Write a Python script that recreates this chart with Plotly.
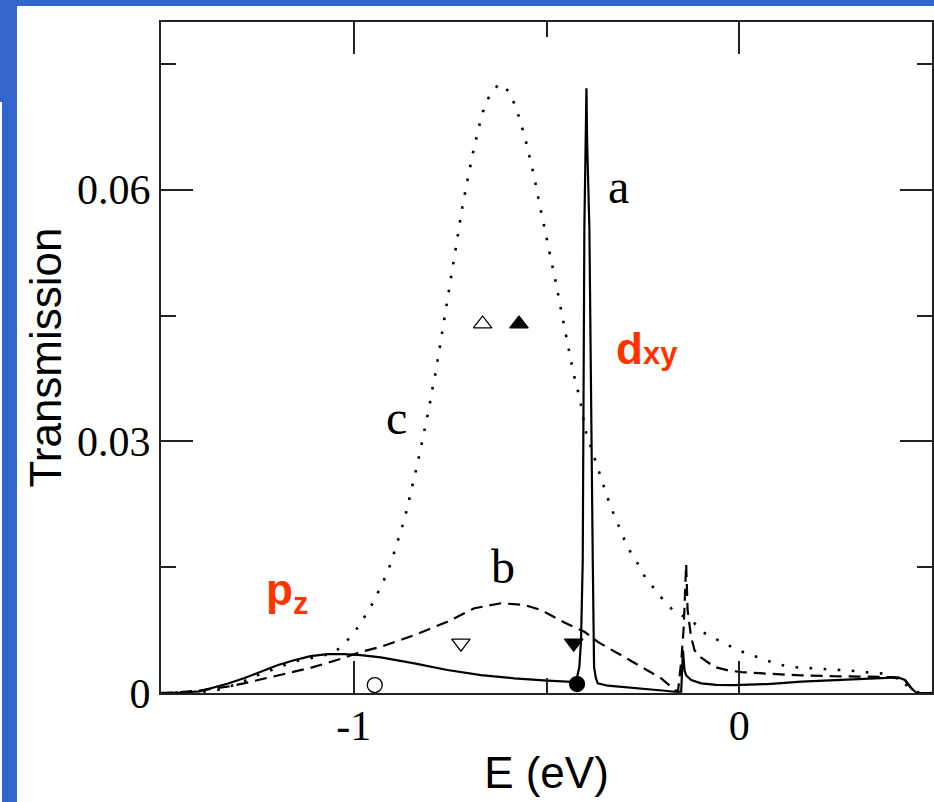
import plotly.graph_objects as go

# ---------------- data ----------------
# curve a (solid)
x_a = [-1.5, -1.45, -1.4, -1.371, -1.328, -1.285, -1.242, -1.198, -1.155, -1.112,
       -1.068, -1.025, -0.982, -0.93, -0.843, -0.757, -0.670, -0.584, -0.497, -0.428,
       -0.4234, -0.4148, -0.4104, -0.406, -0.4018, -0.3985, -0.3964, -0.3945, -0.3888,
       -0.380, -0.378, -0.3766, -0.372, -0.367, -0.341, -0.2545, -0.2, -0.168, -0.1506,
       -0.146, -0.142, -0.1377, -0.1247, -0.0987, -0.06, -0.013, 0.074, 0.161, 0.248,
       0.334, 0.412, 0.43, 0.447, 0.46, 0.5]
y_a = [0.0, 0.00005, 0.0002, 0.00056, 0.0011, 0.00175, 0.0025, 0.0033, 0.0039, 0.0044,
       0.00464, 0.00464, 0.00452, 0.00425, 0.00353, 0.00274, 0.00214, 0.00175, 0.00147, 0.00123,
       0.0013, 0.0031, 0.0063, 0.0158, 0.0555, 0.0655, 0.0721, 0.0655, 0.0555,
       0.0158, 0.0063, 0.0031, 0.0018, 0.00115, 0.00087, 0.00056, 0.0003, 0.00015, 0.00015,
       0.0051, 0.0027, 0.0021, 0.00155, 0.00115, 0.00098, 0.00095, 0.00107, 0.00135, 0.00155,
       0.00175, 0.00186, 0.00155, 0.00056, 0.0, 0.0]

# curve b (dashed)
x_b = [-1.5, -1.45, -1.4, -1.328, -1.285, -1.242, -1.198, -1.155, -1.112, -1.068,
       -1.025, -0.982, -0.93, -0.843, -0.757, -0.6875, -0.618, -0.5576, -0.514, -0.4536,
       -0.4016, -0.367, -0.315, -0.2545, -0.2026, -0.168, -0.159, -0.150, -0.144, -0.1377,
       -0.134, -0.125, -0.116, -0.0987, -0.064, -0.0294, 0.0052, 0.074, 0.161, 0.248,
       0.334, 0.395, 0.43, 0.447, 0.46, 0.5]
y_b = [0.0, 0.0001, 0.0003, 0.00075, 0.00115, 0.0016, 0.0021, 0.0025, 0.0030, 0.0036,
       0.0042, 0.0049, 0.0055, 0.0069, 0.0085, 0.0101, 0.0107, 0.0105, 0.0099, 0.0084,
       0.0073, 0.0061, 0.0047, 0.0031, 0.00175, 0.0004, 0.00015, 0.004, 0.0079, 0.0154,
       0.0099, 0.0067, 0.0051, 0.0042, 0.0031, 0.0027, 0.0025, 0.0023, 0.0021, 0.0020,
       0.0019, 0.0019, 0.0015, 0.0005, 0.0, 0.0]

# curve c (dotted)
x_c = [-1.5, -1.45, -1.4, -1.35, -1.3, -1.25, -1.2, -1.15, -1.1, -1.055,
       -1.033, -1.008, -0.985, -0.967, -0.947, -0.932, -0.916, -0.903, -0.891, -0.880,
       -0.869, -0.860, -0.851, -0.842, -0.835, -0.827, -0.819, -0.811, -0.804, -0.798,
       -0.790, -0.778, -0.766, -0.754, -0.742, -0.730, -0.718, -0.704, -0.689, -0.672,
       -0.6616, -0.646, -0.6225, -0.5966, -0.582, -0.570, -0.559, -0.550, -0.542, -0.533,
       -0.519, -0.503, -0.488, -0.473, -0.459, -0.445, -0.430, -0.420, -0.412, -0.399,
       -0.376, -0.365, -0.354, -0.341, -0.327, -0.313, -0.298, -0.281, -0.263, -0.244,
       -0.2216, -0.199, -0.174, -0.146, -0.118, -0.093, -0.064, -0.0294, 0.0034, 0.037,
       0.070, 0.1025, 0.135, 0.170, 0.204, 0.239, 0.274, 0.308, 0.343, 0.378,
       0.412, 0.435, 0.455, 0.47, 0.5]
y_c = [0.0, 0.00003, 0.0001, 0.0004, 0.0011, 0.0021, 0.0030, 0.0038, 0.0043, 0.0047,
       0.0055, 0.0067, 0.0081, 0.0095, 0.0110, 0.0125, 0.0140, 0.0156, 0.0173, 0.0189,
       0.0206, 0.0223, 0.0240, 0.0256, 0.0273, 0.0290, 0.0307, 0.0324, 0.0341, 0.0358,
       0.0376, 0.0409, 0.0443, 0.0478, 0.0511, 0.0546, 0.0580, 0.0614, 0.0648, 0.0681,
       0.0698, 0.0714, 0.07265, 0.0717, 0.0701, 0.0685, 0.0668, 0.0652, 0.0635, 0.0618,
       0.0585, 0.0551, 0.0517, 0.0483, 0.0449, 0.0415, 0.0381, 0.0363, 0.0347, 0.0313,
       0.0281, 0.0265, 0.0248, 0.0232, 0.0215, 0.0199, 0.0183, 0.0167, 0.0154, 0.0138,
       0.01255, 0.0112, 0.00996, 0.0092, 0.0084, 0.0072, 0.0065, 0.0057, 0.0050, 0.0044,
       0.0039, 0.0034, 0.0031, 0.0030, 0.0029, 0.0028, 0.0027, 0.0026, 0.0024, 0.0023,
       0.0017, 0.0009, 0.0002, 0.0, 0.0]

# symbols
sym_x = [-0.6657, -0.5714, -0.722, -0.4294, -0.9455, -0.4208]
sym_y = [0.0440, 0.0440, 0.00595, 0.00595, 0.00095, 0.00107]
sym_kind = ["triangle-up-open", "triangle-up", "triangle-down-open", "triangle-down",
            "circle-open", "circle"]

# labels
curve_labels = ["a", "b", "c"]
curve_label_x = [-0.313, -0.6138, -0.889]
curve_label_y = [0.0604, 0.01504, 0.0328]
orbital_labels = ["d<span style='font-size:31px'>xy</span>", "p<sub>z</sub>"]
orbital_x = [-0.3247, -1.2338]
orbital_y = [0.0411, 0.0119]

x_tick_vals = [-1, 0]
x_tick_text = ["-1", "0"]
x_minor_vals = [-1.5, -0.5, 0.5]
y_tick_vals = [0, 0.03, 0.06]
y_tick_text = ["0", "0.03", "0.06"]
y_minor_vals = [0.015, 0.045, 0.075]

# ---------------- figure ----------------
W, H = 934, 802
ML, MR, MT, MB = 161, 2, 22, 109
PW, PH = W - ML - MR, H - MT - MB
BLUE = "#3366CC"
RED = "#FF3300"

fig = go.Figure()
fig.add_trace(go.Scatter(x=x_c, y=y_c, mode="lines", name="c",
                         line=dict(color="black", width=2.6, dash="2.6px,11.5px")))
fig.add_trace(go.Scatter(x=x_b, y=y_b, mode="lines", name="b",
                         line=dict(color="black", width=2.2, dash="12px,7px")))
fig.add_trace(go.Scatter(x=x_a, y=y_a, mode="lines", name="a",
                         line=dict(color="black", width=2.2)))
for xs, ys, k in zip(sym_x, sym_y, sym_kind):
    sz = 15 if "circle" in k else 16
    fig.add_trace(go.Scatter(x=[xs], y=[ys], mode="markers",
                             marker=dict(symbol=k, size=sz, color="black",
                                         line=dict(color="black", width=1.3))))

for t, x, y in zip(curve_labels, curve_label_x, curve_label_y):
    fig.add_annotation(x=x, y=y, text=t, showarrow=False,
                       font=dict(family="Liberation Serif", size=48, color="black"))
for t, x, y in zip(orbital_labels, orbital_x, orbital_y):
    fig.add_annotation(x=x, y=y, text=t, showarrow=False, xanchor="left",
                       font=dict(family="Liberation Sans", size=44, color=RED, weight="bold"))

def px_x(p):
    return (p - ML) / PW

def px_y(p):
    return (H - MB - p) / PH

shapes = [
    dict(x0=px_x(0), x1=px_x(17), y0=px_y(102), y1=px_y(0)),
    dict(x0=px_x(2), x1=px_x(17), y0=px_y(H), y1=px_y(102)),
    dict(x0=px_x(0), x1=px_x(W), y0=px_y(6), y1=px_y(0)),
]
for s in shapes:
    fig.add_shape(type="rect", xref="paper", yref="paper", fillcolor=BLUE,
                  line=dict(width=0), layer="below", **s)

axis_common = dict(showgrid=False, zeroline=False, showline=True, linewidth=2,
                   linecolor="#222", mirror="allticks", ticks="inside", ticklen=32,
                   tickwidth=2, tickcolor="#222",
                   tickfont=dict(family="Liberation Serif", size=42, color="black"))

fig.update_layout(
    width=W, height=H, margin=dict(l=ML, r=MR, t=MT, b=MB, autoexpand=False),
    paper_bgcolor="white", plot_bgcolor="white", showlegend=False,
    xaxis=dict(range=[-1.5, 0.5], tickmode="array", tickvals=x_tick_vals, ticktext=x_tick_text,
               ticklabelstandoff=-5,
               minor=dict(tickmode="array", tickvals=x_minor_vals, ticks="inside", ticklen=15,
                          tickwidth=2, tickcolor="#222"),
               title=dict(text="E (eV)", standoff=9,
                          font=dict(family="Liberation Sans", size=44, color="black")),
               **axis_common),
    yaxis=dict(range=[0, 0.08], tickmode="array", tickvals=y_tick_vals, ticktext=y_tick_text,
               minor=dict(tickmode="array", tickvals=y_minor_vals, ticks="inside", ticklen=15,
                          tickwidth=2, tickcolor="#222"),
               title=dict(text="Transmission", standoff=2,
                          font=dict(family="Liberation Sans", size=44, color="black")),
               **axis_common),
)

fig.write_html("out.html", config={"displayModeBar": False},
               post_script="document.body.style.margin='0px';")
